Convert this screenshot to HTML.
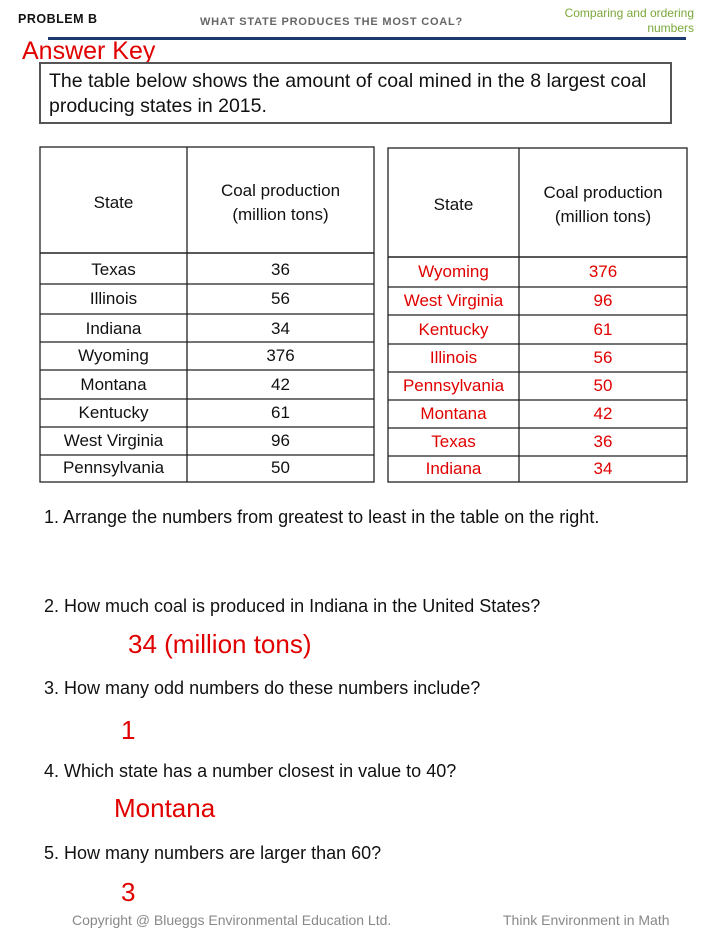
<!DOCTYPE html>
<html><head><meta charset="utf-8"><style>
body{margin:0;width:720px;height:932px;background:#fff;position:relative;overflow:hidden;font-family:"Liberation Sans",sans-serif;}
.t{position:absolute;white-space:nowrap;}
.c{position:absolute;text-align:center;font-size:17px;color:#111;transform:translateY(-50%);}
.r{color:#e00000;}
.q{position:absolute;font-size:18px;color:#111;white-space:nowrap;}
.a{position:absolute;font-size:26px;color:#e00000;white-space:nowrap;}
</style></head><body>
<div class="t" style="left:18px;top:12px;font-size:12.5px;font-weight:bold;letter-spacing:0.5px;color:#111">PROBLEM B</div>
<div class="t" style="left:200px;top:16px;font-size:11px;font-weight:bold;letter-spacing:0.8px;color:#666">WHAT STATE PRODUCES THE MOST COAL?</div>
<div class="t" style="right:26px;top:6px;font-size:12px;color:#7aa83a;text-align:right;line-height:15px">Comparing and ordering<br>numbers</div>
<div style="position:absolute;left:48px;top:37px;width:638px;height:3px;background:#1d3a6e"></div>
<div class="t" style="left:22px;top:37px;font-size:25px;color:#e00000">Answer Key</div>
<div style="position:absolute;left:39px;top:62px;width:633px;height:62px;border:2px solid #555;box-sizing:border-box"></div>
<div class="t" style="left:49px;top:69px;font-size:19.5px;line-height:25px;color:#111">The table below shows the amount of coal mined in the 8 largest coal<br>producing states in 2015.</div>
<svg width="720" height="932" style="position:absolute;left:0;top:0" stroke="#222" stroke-width="1.3" fill="none">
<rect x="40" y="147" width="334" height="335"/>
<line x1="187" y1="147" x2="187" y2="482"/>
<g>
<line x1="40" y1="253" x2="374" y2="253" stroke-width="1.6"/>
<line x1="40" y1="284" x2="374" y2="284"/><line x1="40" y1="314" x2="374" y2="314"/>
<line x1="40" y1="342" x2="374" y2="342"/><line x1="40" y1="370" x2="374" y2="370"/>
<line x1="40" y1="399" x2="374" y2="399"/><line x1="40" y1="427" x2="374" y2="427"/>
<line x1="40" y1="455" x2="374" y2="455"/>
</g>
<rect x="388" y="148" width="299" height="334"/>
<line x1="519" y1="148" x2="519" y2="482"/>
<line x1="388" y1="257" x2="687" y2="257" stroke-width="1.6"/>
<line x1="388" y1="287" x2="687" y2="287"/><line x1="388" y1="315" x2="687" y2="315"/>
<line x1="388" y1="344" x2="687" y2="344"/><line x1="388" y1="372" x2="687" y2="372"/>
<line x1="388" y1="400" x2="687" y2="400"/><line x1="388" y1="428" x2="687" y2="428"/>
<line x1="388" y1="456" x2="687" y2="456"/>
</svg>
<div class="c" style="left:40px;width:147px;top:203px">State</div>
<div class="c" style="left:187px;width:187px;top:203px;line-height:24px">Coal production<br>(million tons)</div>
<div class="c" style="left:388px;width:131px;top:205px">State</div>
<div class="c" style="left:519px;width:168px;top:205px;line-height:24px">Coal production<br>(million tons)</div>

<div class="c" style="left:40px;width:147px;top:270px">Texas</div><div class="c" style="left:187px;width:187px;top:270px">36</div>
<div class="c" style="left:40px;width:147px;top:299px">Illinois</div><div class="c" style="left:187px;width:187px;top:299px">56</div>
<div class="c" style="left:40px;width:147px;top:329px">Indiana</div><div class="c" style="left:187px;width:187px;top:329px">34</div>
<div class="c" style="left:40px;width:147px;top:356px">Wyoming</div><div class="c" style="left:187px;width:187px;top:356px">376</div>
<div class="c" style="left:40px;width:147px;top:385px">Montana</div><div class="c" style="left:187px;width:187px;top:385px">42</div>
<div class="c" style="left:40px;width:147px;top:413px">Kentucky</div><div class="c" style="left:187px;width:187px;top:413px">61</div>
<div class="c" style="left:40px;width:147px;top:441px">West Virginia</div><div class="c" style="left:187px;width:187px;top:441px">96</div>
<div class="c" style="left:40px;width:147px;top:468px">Pennsylvania</div><div class="c" style="left:187px;width:187px;top:468px">50</div>

<div class="c r" style="left:388px;width:131px;top:272px">Wyoming</div><div class="c r" style="left:519px;width:168px;top:272px">376</div>
<div class="c r" style="left:388px;width:131px;top:301px">West Virginia</div><div class="c r" style="left:519px;width:168px;top:301px">96</div>
<div class="c r" style="left:388px;width:131px;top:330px">Kentucky</div><div class="c r" style="left:519px;width:168px;top:330px">61</div>
<div class="c r" style="left:388px;width:131px;top:358px">Illinois</div><div class="c r" style="left:519px;width:168px;top:358px">56</div>
<div class="c r" style="left:388px;width:131px;top:386px">Pennsylvania</div><div class="c r" style="left:519px;width:168px;top:386px">50</div>
<div class="c r" style="left:388px;width:131px;top:414px">Montana</div><div class="c r" style="left:519px;width:168px;top:414px">42</div>
<div class="c r" style="left:388px;width:131px;top:442px">Texas</div><div class="c r" style="left:519px;width:168px;top:442px">36</div>
<div class="c r" style="left:388px;width:131px;top:469px">Indiana</div><div class="c r" style="left:519px;width:168px;top:469px">34</div>

<div class="q" style="left:44px;top:507px">1. Arrange the numbers from greatest to least in the table on the right.</div>
<div class="q" style="left:44px;top:596px">2. How much coal is produced in Indiana in the United States?</div>
<div class="a" style="left:128px;top:629px">34 (million tons)</div>
<div class="q" style="left:44px;top:678px">3. How many odd numbers do these numbers include?</div>
<div class="a" style="left:121px;top:715px">1</div>
<div class="q" style="left:44px;top:761px">4. Which state has a number closest in value to 40?</div>
<div class="a" style="left:114px;top:793px">Montana</div>
<div class="q" style="left:44px;top:843px">5. How many numbers are larger than 60?</div>
<div class="a" style="left:121px;top:877px">3</div>
<div class="t" style="left:72px;top:912px;font-size:14px;color:#888">Copyright @ Blueggs Environmental Education Ltd.</div>
<div class="t" style="left:503px;top:912px;font-size:14px;color:#888">Think Environment in Math</div>
</body></html>
